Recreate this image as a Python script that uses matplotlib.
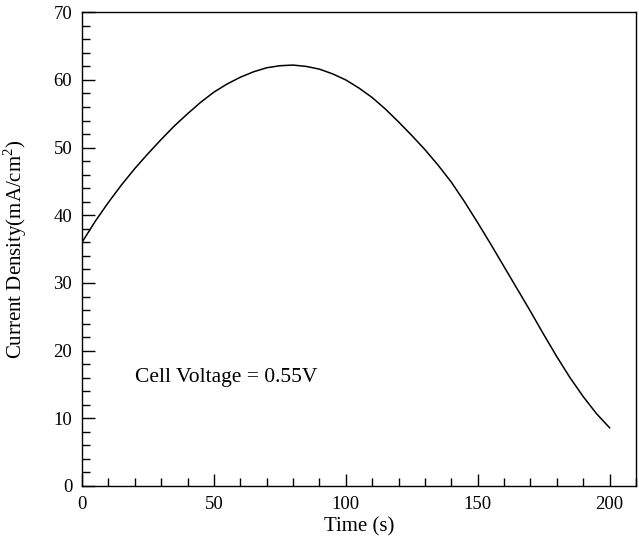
import numpy as np
import matplotlib
matplotlib.use("Agg")
import matplotlib.pyplot as plt
from matplotlib.ticker import MultipleLocator

plt.rcParams['font.family'] = ['Liberation Serif', 'DejaVu Serif']
plt.rcParams['mathtext.fontset'] = 'custom'
plt.rcParams['mathtext.rm'] = 'Liberation Serif'

# current density vs time at fixed cell voltage
time_s = [0, 5, 10, 15, 20, 25, 30, 35, 40, 45, 50, 55, 60, 65, 70, 75, 80,
          85, 90, 95, 100, 105, 110, 115, 120, 125, 130, 135, 140, 145, 150,
          155, 160, 165, 170, 175, 180, 185, 190, 195, 200]
current = [36.0, 39.1, 41.9, 44.5, 46.9, 49.1, 51.2, 53.2, 55.0, 56.7, 58.2,
           59.4, 60.4, 61.2, 61.8, 62.1, 62.2, 62.0, 61.6, 60.9, 60.0, 58.8,
           57.4, 55.7, 53.8, 51.8, 49.7, 47.4, 44.9, 42.0, 38.9, 35.7, 32.4,
           29.1, 25.8, 22.4, 19.1, 16.0, 13.2, 10.7, 8.6]

fig = plt.figure(figsize=(6.39, 5.41), dpi=100)
ax = fig.add_axes([0.1283, 0.1017, 0.867, 0.8756])

ax.plot(time_s, current, color='black', lw=1.1)

ax.set_xlim(0, 210)
ax.set_ylim(0, 70)
ax.xaxis.set_major_locator(MultipleLocator(50))
ax.xaxis.set_minor_locator(MultipleLocator(10))
ax.yaxis.set_major_locator(MultipleLocator(10))
ax.yaxis.set_minor_locator(MultipleLocator(2))
ax.tick_params(which='both', direction='in', top=False, right=False,
               labelsize=13.5, width=1)
ax.tick_params(which='major', length=9, pad=7)
ax.tick_params(which='minor', length=5.5)
for s in ax.spines.values():
    s.set_linewidth(1.0)

ax.set_xlabel('Time (s)', fontsize=15, labelpad=3)
ax.set_ylabel('Current Density(mA/cm$^2$)', fontsize=15)
ax.yaxis.set_label_coords(-0.095, 0.5)

ax.text(20, 15.4, 'Cell Voltage = 0.55V', fontsize=15.5, va='baseline')

fig.savefig('out.png', dpi=100)
